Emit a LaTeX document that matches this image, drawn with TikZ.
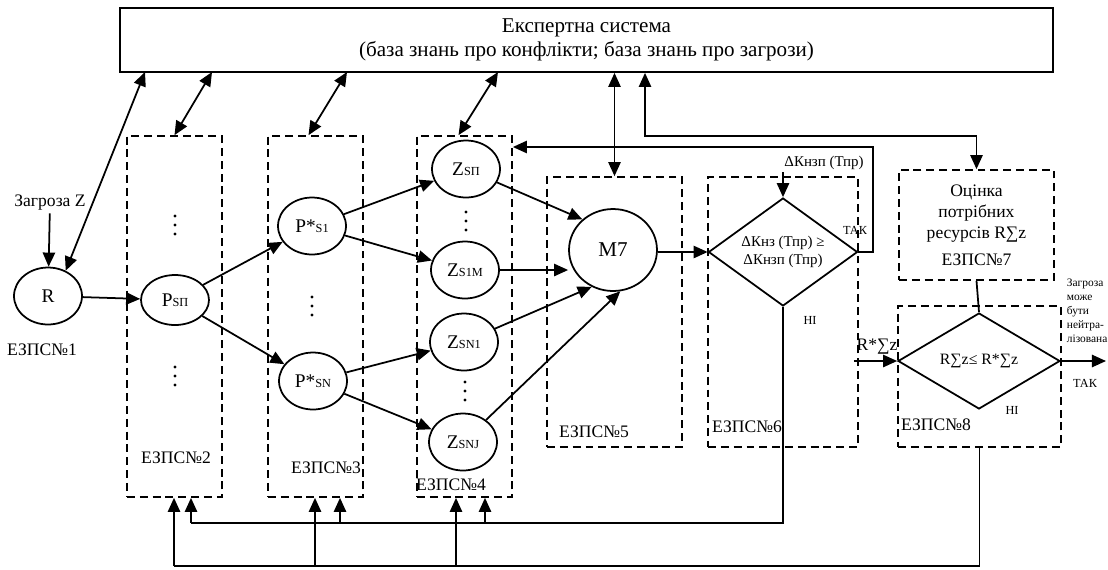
\documentclass[tikz,border=0pt]{standalone}
\usepackage{fontspec}
\setmainfont{Liberation Serif}
\usetikzlibrary{shapes.geometric,arrows.meta,positioning}

% small index letters after P and Z
\newcommand{\zsub}[1]{{\fontsize{7}{8}\selectfont #1}}

\begin{document}
\begin{tikzpicture}[x=0.02cm, y=-0.02cm, line width=1pt,
    font=\fontsize{10}{12}\selectfont,
    % Define styles for the special nodes
    ellip/.style={ellipse, draw, inner sep=0pt, minimum width=1.36cm,
      minimum height=1.14cm, font=\fontsize{11}{13}\selectfont},
    zone/.style={draw, dash pattern=on 4.5pt off 2.8pt, inner sep=0pt},
    rhomb/.style={diamond, draw, inner sep=0pt, aspect=1.5, align=center},
    txt/.style={inner sep=1pt, align=center},
    small/.style={font=\fontsize{7}{8}\selectfont, inner sep=1pt},
    arr/.style={-{Triangle[length=8pt,width=7pt]}},
    both/.style={{Triangle[length=8pt,width=7pt]}-{Triangle[length=8pt,width=7pt]}}]
\useasboundingbox (0,0) rectangle (1108,569);

\node[draw, minimum width=18.66cm, minimum height=1.28cm, align=center,
  font=\fontsize{12}{13.6}\selectfont] (es) at (586.5,40)
  {Експертна система\\(база знань про конфлікти; база знань про загрози)};

% dashed blocks
\node[zone, minimum width=1.9cm, minimum height=7.22cm] (b2) at (174.5,316.5) {};
\node[zone, minimum width=1.9cm, minimum height=7.22cm] (b3) at (315.5,316.5) {};
\node[zone, minimum width=1.9cm, minimum height=7.22cm] (b4) at (464.5,316.5) {};
\node[zone, minimum width=2.7cm, minimum height=5.4cm] (b5) at (614.5,312) {};
\node[zone, minimum width=3cm, minimum height=5.4cm] (b6) at (783,312) {};
\node[zone, minimum width=3.1cm, minimum height=2.2cm, align=center] (b7) at (976.5,225)
  {Оцінка\\потрібних\\ресурсів R∑z\\[3pt]ЕЗПС№7};
\node[zone, minimum width=3.26cm, minimum height=2.82cm] (b8) at (979.5,376.5) {};

% states
\node[ellip] (r) at (48,296) {R};
\node[ellip, minimum height=1cm] (psp) at (175,300) {P\zsub{SП}};
\node[ellip] (ps1) at (312,226) {P*\zsub{S1}};
\node[ellip] (psn) at (313,381) {P*\zsub{SN}};
\node[ellip] (zsp) at (466,169) {Z\zsub{SП}};
\node[ellip] (zs1m) at (465,270) {Z\zsub{S1М}};
\node[ellip] (zsn1) at (464,342) {Z\zsub{SN1}};
\node[ellip] (zsnj) at (463,442) {Z\zsub{SNJ}};
\node[ellip, minimum width=1.76cm, minimum height=1.64cm,
  font=\fontsize{12}{14}\selectfont] (m7) at (613,250) {M7};

% vertical dots
\foreach \x/\y in {175/225, 175/376, 312/306, 466/221, 465/391}
  \foreach \d in {-9,0,9}
    \fill (\x,\y+\d) circle (0.9pt);

% decisions
\node[rhomb, minimum width=2.98cm, minimum height=2.16cm,
  font=\fontsize{8.5}{10}\selectfont] (d6) at (783,252) {ΔКнз (Тпр) ≥\\ΔКнзп (Тпр)};
\node[rhomb, minimum width=3.24cm, minimum height=1.92cm,
  font=\fontsize{9}{11}\selectfont] (d8) at (979,361) {R∑z≤ R*∑z};

% labels
\node[txt] (thr) at (50,203) {Загроза Z};
\node[txt] (l1) at (42,350) {ЕЗПС№1};
\node[txt] (l2t) at (176,458) {ЕЗПС№2};
\node[txt] (l3t) at (326,468) {ЕЗПС№3};
\node[txt] (l4t) at (451,485) {ЕЗПС№4};
\node[txt] (l5t) at (594,432) {ЕЗПС№5};
\node[txt] (l6t) at (747,427) {ЕЗПС№6};
\node[txt] (l8t) at (936,425) {ЕЗПС№8};
\node[txt, font=\fontsize{8.5}{10}\selectfont] (dk) at (824,163) {ΔКнзп (Тпр)};
\node[txt] (rs) at (877,347) {R*∑z};
\node[small] (tak6) at (855,230) {ТАК};
\node[small] (ni6) at (810,320) {НІ};
\node[small] (tak8) at (1085,383) {ТАК};
\node[small] (ni8) at (1012,410) {НІ};
\node[anchor=north west, inner sep=0pt, align=left,
  font=\fontsize{6.5}{8}\selectfont] (outl) at (1066,278)
  {Загроза\\може\\бути\\нейтра-\\лізована};

% links with the expert system
\coordinate (s1) at (145,72);
\coordinate (s2) at (212,72);
\coordinate (s3) at (347,72);
\coordinate (s4) at (498,72);
\coordinate (kn) at (645,136);
\draw[both] (s1) -- (r.55);
\draw[both] (s2) -- (b2.north);
\draw[both] (s3) -- ([xshift=-0.14cm]b3.north);
\draw[both] (s4) -- ([xshift=-0.12cm]b4.north);
\draw[both] (b5.north |- es.south) -- (b5.north);
\draw[both] (kn |- es.south) -- (kn) -| (b7.north);

% main flow
\draw[arr] (thr) -- (r);
\draw[arr] (r) -- (psp);
\draw[arr] (psp) -- (ps1);
\draw[arr] (psp) -- (psn);
\draw[arr] (ps1) -- (zsp);
\draw[arr] (ps1) -- (zs1m);
\draw[arr] (psn) -- (zsn1);
\draw[arr] (psn) -- (zsnj);
\draw[arr] (zsp) -- (m7.135);
\draw[arr] (zs1m.east) -- (zs1m.east -| m7.west);
\draw[arr] (zsn1) -- (m7.-120);
\draw[arr] (zsnj) -- (m7.-80);
\draw[arr] (m7.east |- d6.west) -- (d6.west);
\draw[arr] (dk.south -| d6.north) -- (d6.north);
\coordinate (tk) at (873,147);
\draw[arr] (d6.east) -| (tk) -- (tk -| b4.east);
\draw (b7.south) -- (d8.north);
\draw[arr] (rs.west |- d8.west) -- (d8.west);
\coordinate (out) at (1106,361);
\draw[arr] (d8.east) -- (out);

% feedback lines
\coordinate (u2) at (191,523);
\coordinate (u3) at (340,523);
\coordinate (u4) at (485,523);
\coordinate (w2) at (174,566);
\coordinate (w3) at (315,566);
\coordinate (w4) at (456,566);
\draw (d6.south) |- (u2);
\draw (b8.south) |- (w2);
\foreach \c in {u2,u3,u4,w2,w3,w4}
  \draw[arr] (\c) -- (\c |- b2.south);
\end{tikzpicture}
\end{document}
